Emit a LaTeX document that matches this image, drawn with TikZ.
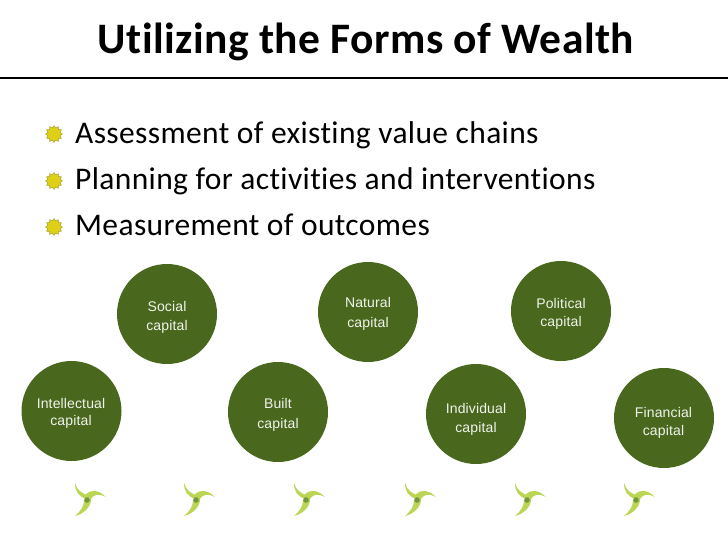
\documentclass[tikz,border=0pt]{standalone}
\usepackage{fontspec}
\setmainfont{Carlito}
\newfontfamily\slidefont[LetterSpace=1.2,Ligatures=CommonOff]{Carlito}
\newfontfamily\headfont[LetterSpace=1.0,Ligatures=CommonOff]{Carlito}
\newfontfamily\capfont[LetterSpace=1.0]{Liberation Sans}
\usepackage{xcolor}
\usetikzlibrary{shapes.geometric}
\definecolor{CapGreen}{RGB}{73,104,29}
\definecolor{BurstYel}{RGB}{222,208,20}
\definecolor{BurstRim}{RGB}{170,165,60}
\definecolor{SwirlLime}{RGB}{186,214,84}
\definecolor{SwirlDark}{RGB}{116,150,60}
\tikzset{
  capital/.style={circle,fill=CapGreen,minimum size=100pt,inner sep=0pt},
  captext/.style={text=white!92!CapGreen,inner sep=0pt,align=center,
                  font=\capfont\fontsize{14}{18}\selectfont},
  burst/.style={star,star points=12,star point ratio=1.35,fill=BurstYel,draw=BurstRim,
                line width=0.5pt,minimum size=17pt,inner sep=0pt},
  item/.style={anchor=base west,inner sep=0pt,font=\slidefont\fontsize{31.5}{33}\selectfont},
  swirl/.pic={
    \fill[SwirlLime] (-1,-1) .. controls (-9,-4) and (-12,-9) .. (-12,-17)
      .. controls (-10,-10) and (-6,-7) .. (2,-4) -- cycle;
    \fill[SwirlLime] (-3,-3) .. controls (1,-10) and (10,-12) .. (19,-3)
      .. controls (11,-7) and (6,-6) .. (3,1) -- cycle;
    \fill[SwirlLime] (4,-2) .. controls (5,6) and (-3,14) .. (-12,16)
      .. controls (-6,11) and (-3,6) .. (-3,0) -- cycle;
    \fill[SwirlDark] (0,0) circle (2.8);
  },
}
\begin{document}
\begin{tikzpicture}[x=1pt,y=-1pt]
  \useasboundingbox (0,0) rectangle (728,546);
  \node[anchor=base,font=\headfont\bfseries\fontsize{43.5}{45}\selectfont,inner sep=0pt] (title) at (366,53.5) {Utilizing the Forms of Wealth};
  \coordinate (ruleL) at (0,78);
  \coordinate (ruleR) at (728,78);
  \draw[line width=1.6pt] (ruleL) -- (ruleR);

  \node[burst] (b1) at (54,134) {};
  \node[burst] (b2) at (54,181) {};
  \node[burst] (b3) at (54,227) {};
  \node[item] (i1) at (75,143) {Assessment of existing value chains};
  \node[item] (i2) at (75,189) {Planning for activities and interventions};
  \node[item] (i3) at (75,235.5) {Measurement of outcomes};

  \node[capital] (social) at (167,314) {};
  \node[capital] (natural) at (368,312) {};
  \node[capital] (political) at (561,311) {};
  \node[capital] (intellectual) at (71.5,411) {};
  \node[capital] (built) at (278,412) {};
  \node[capital] (individual) at (476,414) {};
  \node[capital] (financial) at (664,418) {};

  \node[captext] (socialT) at (167,317.5) {Social\\[1pt]capital};
  \node[captext] (naturalT) at (368,314) {Natural\\[2pt]capital};
  \node[captext] (politicalT) at (561,314) {Political\\capital};
  \node[captext] (intellectualT) at (71,413.5) {Intellectual\\[-1pt]capital};
  \node[captext] (builtT) at (278,415) {Built\\[2pt]capital};
  \node[captext] (individualT) at (476,419.5) {Individual\\[1pt]capital};
  \node[captext] (financialT) at (663.5,423) {Financial\\capital};

  \foreach \sx in {87,196,306,417,527,636}
    \pic at (\sx,500) {swirl};
\end{tikzpicture}
\end{document}
